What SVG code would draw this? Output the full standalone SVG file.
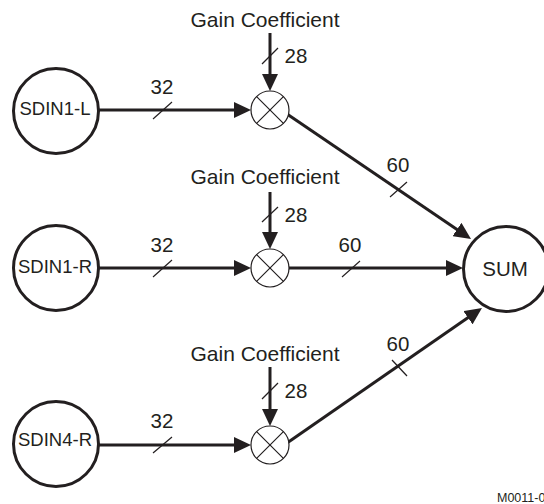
<svg xmlns="http://www.w3.org/2000/svg" width="544" height="504" viewBox="0 0 544 504">
<style>
text{font-family:"Liberation Sans",Arial,sans-serif;fill:#231f20}
.node{fill:#fff;stroke:#231f20;stroke-width:3}
.mult{fill:#fff;stroke:#231f20;stroke-width:1.2}
.x{stroke:#231f20;stroke-width:1.2}
.wire{stroke:#231f20;stroke-width:3;fill:none;marker-end:url(#ah)}
.tick{stroke:#231f20;stroke-width:1.2}
.lbl{font-size:20.5px;text-anchor:middle}
.gain{font-size:21px;text-anchor:middle}
.nl{font-size:18.5px;text-anchor:middle}
</style>
<defs>
<marker id="ah" markerUnits="userSpaceOnUse" markerWidth="17" markerHeight="16" refX="9" refY="8" orient="auto">
<path d="M0,0 L17,8 L0,16 z" fill="#231f20"/>
</marker>
</defs>
<rect width="544" height="504" fill="#fff"/>
<g id="connectors">
<line class="wire" x1="99" y1="110" x2="243" y2="110"/>
<line class="wire" x1="99" y1="268" x2="243" y2="268"/>
<line class="wire" x1="99" y1="445" x2="243" y2="445"/>
<line class="wire" x1="270" y1="33" x2="270" y2="83"/>
<line class="wire" x1="270" y1="192" x2="270" y2="241"/>
<line class="wire" x1="270" y1="367" x2="270" y2="418"/>
<line class="wire" x1="287" y1="114" x2="464.4" y2="234.5"/>
<line class="wire" x1="289" y1="268" x2="455" y2="268"/>
<line class="wire" x1="287" y1="443" x2="475.4" y2="312.6"/>
<line class="tick" x1="153" y1="119" x2="172" y2="102"/>
<line class="tick" x1="153" y1="277" x2="172" y2="260"/>
<line class="tick" x1="153" y1="453" x2="172" y2="437"/>
<line class="tick" x1="262" y1="64" x2="278" y2="48"/>
<line class="tick" x1="262" y1="222" x2="278" y2="207"/>
<line class="tick" x1="262" y1="399" x2="278" y2="383"/>
<line class="tick" x1="390" y1="197" x2="407" y2="182"/>
<line class="tick" x1="342" y1="277" x2="360" y2="261"/>
<line class="tick" x1="392" y1="360" x2="407" y2="376"/>
<text class="lbl" x="162" y="94">32</text>
<text class="lbl" x="162" y="252">32</text>
<text class="lbl" x="162" y="428">32</text>
<text class="lbl" x="296" y="63">28</text>
<text class="lbl" x="296" y="222">28</text>
<text class="lbl" x="296" y="398">28</text>
<text class="lbl" x="398" y="172">60</text>
<text class="lbl" x="350" y="252">60</text>
<text class="lbl" x="398" y="351">60</text>
</g>
<g id="gain1"><text class="gain" x="265" y="27">Gain Coefficient</text></g>
<g id="gain2"><text class="gain" x="265" y="184">Gain Coefficient</text></g>
<g id="gain3"><text class="gain" x="265" y="361">Gain Coefficient</text></g>
<g id="sdin1l"><circle class="node" cx="56" cy="111" r="42.5"/><text class="nl" x="55" y="115">SDIN1-L</text></g>
<g id="sdin1r"><circle class="node" cx="56" cy="268" r="42.5"/><text class="nl" x="55" y="273">SDIN1-R</text></g>
<g id="sdin4r"><circle class="node" cx="56" cy="444" r="42.5"/><text class="nl" x="55" y="446">SDIN4-R</text></g>
<g id="mult1"><circle class="mult" cx="270" cy="110" r="19"/><path class="x" d="M256.6,96.6 L283.4,123.4 M283.4,96.6 L256.6,123.4"/></g>
<g id="mult2"><circle class="mult" cx="270" cy="268" r="19"/><path class="x" d="M256.6,254.6 L283.4,281.4 M283.4,254.6 L256.6,281.4"/></g>
<g id="mult3"><circle class="mult" cx="270" cy="445" r="19"/><path class="x" d="M256.6,431.6 L283.4,458.4 M283.4,431.6 L256.6,458.4"/></g>
<g id="sum"><circle class="node" cx="506" cy="269" r="42.5"/><text class="lbl" x="505" y="276">SUM</text></g>
<text x="497" y="502" style="font-size:12.5px">M0011-0</text>
</svg>
